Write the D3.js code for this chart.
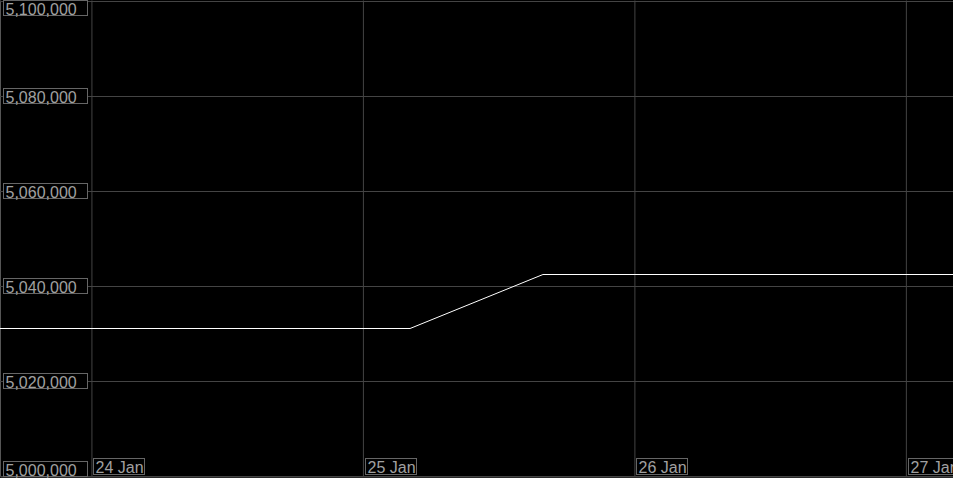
<!DOCTYPE html>
<html>
<head>
<meta charset="utf-8">
<script src="https://cdn.jsdelivr.net/npm/d3@7"></script>
<style>
  body { margin: 0; background: #000; overflow: hidden; }
  svg { display: block; }
  text { font-family: "Liberation Sans", Arial, sans-serif; font-size: 16px; fill: #a0a0a0; }
</style>
</head>
<body>
<script>
// data
let times = ["2024-01-23T15:55", "2024-01-25T04:10", "2024-01-25T15:55", "2024-01-27T04:10"];
let values = [5031200, 5031200, 5042500, 5042500];
let yTicks = [5000000, 5020000, 5040000, 5060000, 5080000, 5100000];
let xTicks = ["2024-01-24", "2024-01-25", "2024-01-26", "2024-01-27"];

let width = 953, height = 478;
let parse = d3.timeParse("%Y-%m-%dT%H:%M");
let parseDay = d3.timeParse("%Y-%m-%d");

let data = times.map(function(t, i){ return {t: parse(t), v: values[i]}; });

let svg = d3.select("body").append("svg")
  .attr("width", width)
  .attr("height", height);

svg.append("rect").attr("width", width).attr("height", height).attr("fill", "#000");

let xScale = d3.scaleTime().domain([parse(times[0]), parse(times[times.length-1])]).range([0, width]);
let yScale = d3.scaleLinear().domain([5000000, 5100000]).range([476, 1]);

// grid lines
let xAxis = d3.axisBottom(xScale).tickValues(xTicks.map(parseDay)).tickSize(-476).tickFormat("");
let yAxis = d3.axisLeft(yScale).tickValues(yTicks).tickSize(-width).tickFormat("");

svg.append("g")
  .attr("class", "x grid")
  .attr("transform", "translate(0,476.5)")
  .call(xAxis)
  .call(g => g.select(".domain").attr("stroke", "#555"))
  .call(g => g.selectAll(".tick line").attr("stroke", "#444"));

svg.append("g")
  .attr("class", "y grid")
  .call(yAxis)
  .call(g => g.select(".domain").remove())
  .call(g => g.selectAll(".tick line").attr("stroke", "#444"));

// the series
let line = d3.line()
  .x(function(d){ return xScale(d.t); })
  .y(function(d){ return Math.round(yScale(d.v)) + 0.5; });

svg.append("path")
  .datum(data)
  .attr("fill", "none")
  .attr("stroke", "#fff")
  .attr("stroke-width", 1)
  .attr("d", line);

// y labels, boxed and kept inside the chart
let fmt = d3.format(",");
let yLab = svg.append("g").selectAll("g")
  .data(yTicks)
  .enter().append("g")
  .attr("transform", function(d){
    let cy = Math.round(yScale(d));
    let top = Math.min(Math.max(cy - 8, 0), height - 17);
    return "translate(3.5," + (top + 0.5) + ")";
  });
yLab.append("rect")
  .attr("width", 84).attr("height", 15)
  .attr("fill", "#000").attr("stroke", "#666");
yLab.append("text")
  .attr("x", 2).attr("y", 14)
  .text(function(d){ return fmt(d); });

// x labels, boxed on the bottom, right of each grid line
let dayFmt = d3.timeFormat("%-d %b");
let xLab = svg.append("g").selectAll("g")
  .data(xTicks.map(parseDay))
  .enter().append("g")
  .attr("transform", function(d){
    return "translate(" + (Math.round(xScale(d)) + 2.5) + ",458.5)";
  });
xLab.append("rect")
  .attr("width", 51).attr("height", 16)
  .attr("fill", "#000").attr("stroke", "#666");
xLab.append("text")
  .attr("x", 2).attr("y", 14)
  .text(function(d){ return dayFmt(d); });
</script>
</body>
</html>
